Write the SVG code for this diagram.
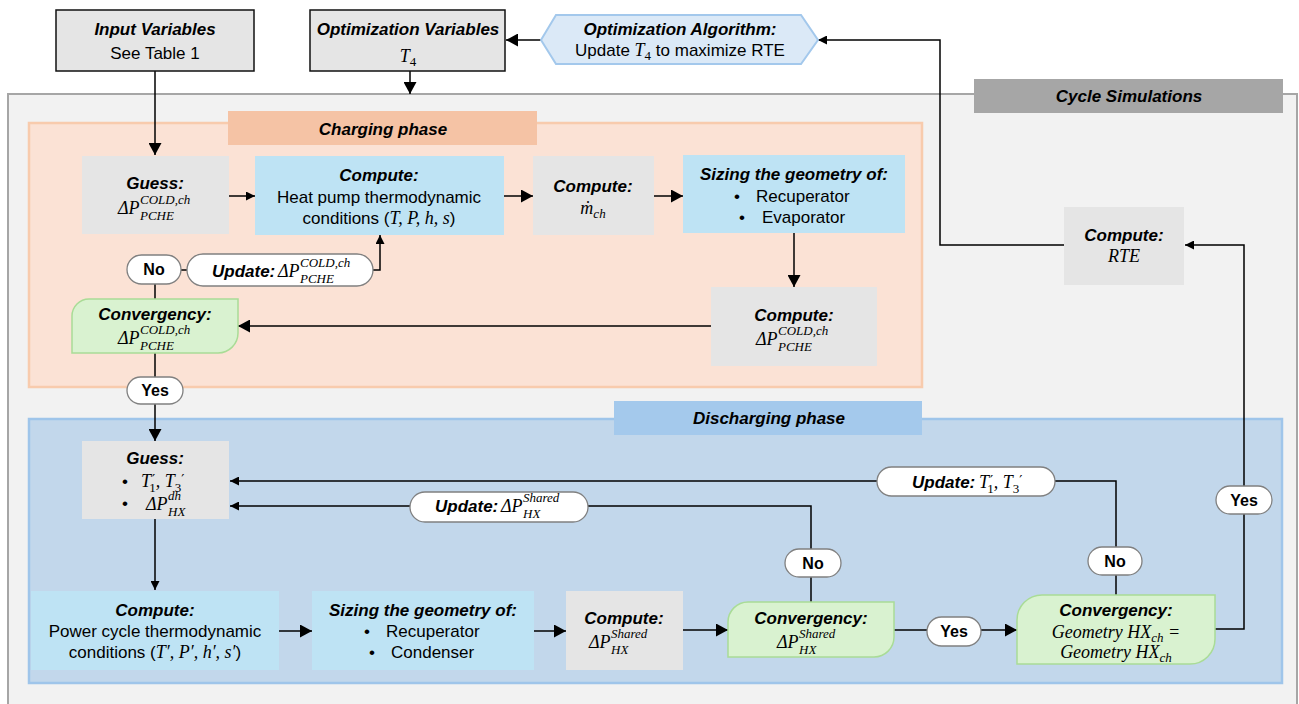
<svg xmlns="http://www.w3.org/2000/svg" width="1299" height="704" viewBox="0 0 1299 704">
<defs>
<style>
.t{font-family:"Liberation Sans",Arial,sans-serif;font-size:17px;text-anchor:middle;fill:#000}
.st{text-anchor:start}
.bi{font-weight:bold;font-style:italic}
.b{font-weight:bold;font-size:16px}
.m{font-family:"Liberation Serif","DejaVu Serif",serif;font-style:italic;font-size:18px;fill:#000}
.mi{font-family:"Liberation Serif","DejaVu Serif",serif;font-style:italic;font-size:18px}
.ms{font-family:"Liberation Serif","DejaVu Serif",serif;font-style:italic;font-size:13px;fill:#000}
.mn{font-family:"Liberation Serif","DejaVu Serif",serif;font-style:normal;font-size:13px;fill:#000}
.pr{font-family:"DejaVu Serif",serif;font-style:normal;font-size:14px;fill:#000}
.gray{fill:#e5e5e5}
.blue{fill:#bee3f4}
.green{fill:#d9f2d0;stroke:#a9dc96;stroke-width:1.5}
.pill{fill:#fff;stroke:#808080;stroke-width:1.3}
.c{fill:none;stroke:#000;stroke-width:1.5}
</style>
<marker id="A" markerUnits="userSpaceOnUse" markerWidth="12" markerHeight="13" refX="12" refY="6.5" orient="auto"><path d="M0,0L12,6.5L0,13Z"/></marker>
<marker id="S" markerUnits="userSpaceOnUse" markerWidth="9" markerHeight="9" refX="9" refY="4.5" orient="auto"><path d="M0,0L9,4.5L0,9Z"/></marker>
</defs>
<rect x="0" y="0" width="1299" height="704" fill="#fff"/>

<g id="cycle-simulations">
<rect x="8" y="94" width="1289" height="620" fill="#f2f2f2" stroke="#a6a6a6" stroke-width="2"/>
<rect x="974" y="79" width="309" height="34" fill="#a6a6a6"/>
<text class="t bi" x="1129" y="102">Cycle Simulations</text>
</g>

<g id="charging-phase">
<rect x="29" y="123" width="893" height="264" fill="#fbe2d5" stroke="#f8cbad" stroke-width="2.5"/>
<rect x="228" y="111" width="309" height="34" fill="#f5c3a5"/>
<text class="t bi" x="383" y="135">Charging phase</text>
</g>

<g id="discharging-phase">
<rect x="29" y="419" width="1253" height="264" fill="#c2d7eb" stroke="#9fc5ea" stroke-width="2.5"/>
<rect x="614" y="401" width="308" height="34" fill="#a4c9ec"/>
<text class="t bi" x="769" y="424">Discharging phase</text>
</g>

<g id="connectors">
<path class="c" d="M155,71V155" marker-end="url(#A)"/>
<path class="c" d="M410,71V94" marker-end="url(#A)"/>
<path class="c" d="M541,40H506" marker-end="url(#A)"/>
<path class="c" d="M1064,245H940V40H818" marker-end="url(#S)"/>
<path class="c" d="M229,196H255" marker-end="url(#S)"/>
<path class="c" d="M504,196H533" marker-end="url(#A)"/>
<path class="c" d="M654,196H683" marker-end="url(#A)"/>
<path class="c" d="M794,233V287" marker-end="url(#A)"/>
<path class="c" d="M711,326H238" marker-end="url(#A)"/>
<path class="c" d="M155,299V284"/>
<path class="c" d="M181,270H187"/>
<path class="c" d="M373,270H380V235" marker-end="url(#S)"/>
<path class="c" d="M155,353V377"/>
<path class="c" d="M155,404V441" marker-end="url(#A)"/>
<path class="c" d="M155,519V590" marker-end="url(#S)"/>
<path class="c" d="M279,631H312" marker-end="url(#A)"/>
<path class="c" d="M534,631H566" marker-end="url(#A)"/>
<path class="c" d="M683,630H728" marker-end="url(#A)"/>
<path class="c" d="M894,630H927"/>
<path class="c" d="M981,630H1017" marker-end="url(#A)"/>
<path class="c" d="M811,602V577"/>
<path class="c" d="M811,549V506H588"/>
<path class="c" d="M410,506H230" marker-end="url(#S)"/>
<path class="c" d="M1116,595V575"/>
<path class="c" d="M1116,547V481H1055"/>
<path class="c" d="M877,481H230" marker-end="url(#S)"/>
<path class="c" d="M1215,629H1244V514"/>
<path class="c" d="M1244,486V245H1185" marker-end="url(#S)"/>
</g>

<g id="input-variables">
<rect x="56" y="10" width="198" height="61" fill="#e5e5e5" stroke="#111" stroke-width="1.5"/>
<text class="t bi" x="155" y="35">Input Variables</text>
<text class="t" x="155" y="59">See Table 1</text>
</g>

<g id="optimization-variables">
<rect x="310" y="10" width="195" height="61" fill="#e5e5e5" stroke="#111" stroke-width="1.5"/>
<text class="t bi" x="408" y="35">Optimization Variables</text>
<text class="m" x="408" y="62" text-anchor="middle" font-size="20">T<tspan class="mn" dy="4">4</tspan></text>
</g>

<g id="optimization-algorithm">
<polygon points="541,40 556,15 801,15 818,40 801,64 556,64" fill="#dbe9f7" stroke="#a3c8ec" stroke-width="2"/>
<text class="t bi" x="680" y="35">Optimization Algorithm:</text>
<text class="t" x="680" y="56" font-size="16">Update <tspan class="mi">T</tspan><tspan class="mn" dy="4">4</tspan><tspan dy="-4"> to maximize RTE</tspan></text>
</g>

<g id="guess-ch">
<rect class="gray" x="82" y="156" width="147" height="78"/>
<text class="t bi" x="155" y="189">Guess:</text>
<g transform="translate(118,214)"><text class="m">ΔP</text><text class="ms" x="22" y="-10">COLD,ch</text><text class="ms" x="22" y="6">PCHE</text></g>
</g>

<g id="compute-heat-pump">
<rect class="blue" x="255" y="156" width="249" height="79"/>
<text class="t bi" x="379" y="181">Compute:</text>
<text class="t" x="379" y="203">Heat pump thermodynamic</text>
<text class="t" x="379" y="224">conditions (<tspan class="mi">T, P, h, s</tspan>)</text>
</g>

<g id="compute-mdot">
<rect class="gray" x="533" y="156" width="121" height="79"/>
<text class="t bi" x="593" y="192">Compute:</text>
<text class="m" x="593" y="214" text-anchor="middle">ṁ<tspan class="ms" dy="4">ch</tspan></text>
</g>

<g id="sizing-ch">
<rect class="blue" x="683" y="155" width="222" height="78"/>
<text class="t bi" x="794" y="180">Sizing the geometry of:</text>
<text class="t" x="737" y="202">•</text>
<text class="t st" x="756" y="202">Recuperator</text>
<text class="t" x="742" y="223">•</text>
<text class="t st" x="762" y="223">Evaporator</text>
</g>

<g id="compute-dp-ch">
<rect class="gray" x="711" y="287" width="166" height="79"/>
<text class="t bi" x="794" y="321">Compute:</text>
<g transform="translate(756,345)"><text class="m">ΔP</text><text class="ms" x="22" y="-10">COLD,ch</text><text class="ms" x="22" y="6">PCHE</text></g>
</g>

<g id="convergency-ch">
<path class="green" d="M89,299H238V333A20,20 0 0 1 218,353H72V316A17,17 0 0 1 89,299Z"/>
<text class="t bi" x="155" y="320">Convergency:</text>
<g transform="translate(118,344)"><text class="m">ΔP</text><text class="ms" x="22" y="-10">COLD,ch</text><text class="ms" x="22" y="6">PCHE</text></g>
</g>

<g id="no-ch">
<rect class="pill" x="127" y="255" width="54" height="29" rx="14.5"/>
<text class="t b" x="154" y="275">No</text>
</g>

<g id="update-ch">
<rect class="pill" x="187" y="254" width="186" height="32" rx="16"/>
<text class="t bi st" x="212" y="277">Update:</text>
<g transform="translate(278,277)"><text class="m">ΔP</text><text class="ms" x="22" y="-10">COLD,ch</text><text class="ms" x="22" y="6">PCHE</text></g>
</g>

<g id="yes-ch">
<rect class="pill" x="127" y="377" width="56" height="27" rx="13.5"/>
<text class="t b" x="155" y="396">Yes</text>
</g>

<g id="guess-dh">
<rect class="gray" x="82" y="441" width="147" height="78"/>
<text class="t bi" x="155" y="464">Guess:</text>
<text class="t" x="125" y="487">•</text>
<text class="m" x="141" y="487">T<tspan class="pr" dx="1" dy="-2">′</tspan><tspan class="mn" dx="-6" dy="7">1</tspan><tspan dy="-5">, T</tspan><tspan class="mn" dy="5">3</tspan><tspan class="pr" dy="-7">′</tspan></text>
<text class="t" x="125" y="509">•</text>
<g transform="translate(146,510)"><text class="m">ΔP</text><text class="ms" x="22" y="-10">dh</text><text class="ms" x="22" y="6">HX</text></g>
</g>

<g id="update-t1t3">
<rect class="pill" x="877" y="467" width="178" height="29" rx="14.5"/>
<text class="t bi st" x="912" y="488">Update:</text>
<text class="m" x="979" y="488">T<tspan class="pr" dx="1" dy="-2">′</tspan><tspan class="mn" dx="-6" dy="7">1</tspan><tspan dy="-5">, T</tspan><tspan class="mn" dy="5">3</tspan><tspan class="pr" dy="-7">′</tspan></text>
</g>

<g id="update-dp-shared">
<rect class="pill" x="410" y="492" width="178" height="30" rx="15"/>
<text class="t bi st" x="435" y="512">Update:</text>
<g transform="translate(501,512)"><text class="m">ΔP</text><text class="ms" x="22" y="-10">Shared</text><text class="ms" x="22" y="6">HX</text></g>
</g>

<g id="no-dh-1">
<rect class="pill" x="785" y="549" width="56" height="28" rx="14"/>
<text class="t b" x="813" y="569">No</text>
</g>

<g id="no-dh-2">
<rect class="pill" x="1088" y="547" width="54" height="28" rx="14"/>
<text class="t b" x="1115" y="567">No</text>
</g>

<g id="compute-power">
<rect class="blue" x="31" y="591" width="248" height="79"/>
<text class="t bi" x="155" y="616">Compute:</text>
<text class="t" x="155" y="637">Power cycle thermodynamic</text>
<text class="t" x="155" y="658">conditions (<tspan class="mi">T′, P′, h′, s′</tspan>)</text>
</g>

<g id="sizing-dh">
<rect class="blue" x="312" y="591" width="222" height="79"/>
<text class="t bi" x="423" y="616">Sizing the geometry of:</text>
<text class="t" x="367" y="637">•</text>
<text class="t st" x="386" y="637">Recuperator</text>
<text class="t" x="372" y="658">•</text>
<text class="t st" x="391" y="658">Condenser</text>
</g>

<g id="compute-dp-shared">
<rect class="gray" x="566" y="591" width="117" height="79"/>
<text class="t bi" x="624" y="624">Compute:</text>
<g transform="translate(589,648)"><text class="m">ΔP</text><text class="ms" x="22" y="-10">Shared</text><text class="ms" x="22" y="6">HX</text></g>
</g>

<g id="convergency-dp-shared">
<path class="green" d="M748,602H894V637A20,20 0 0 1 874,657H728V622A20,20 0 0 1 748,602Z"/>
<text class="t bi" x="811" y="624">Convergency:</text>
<g transform="translate(777,648)"><text class="m">ΔP</text><text class="ms" x="22" y="-10">Shared</text><text class="ms" x="22" y="6">HX</text></g>
</g>

<g id="yes-dh">
<rect class="pill" x="927" y="617" width="54" height="29" rx="14.5"/>
<text class="t b" x="954" y="637">Yes</text>
</g>

<g id="convergency-geometry">
<path class="green" d="M1042,595H1215V639A25,25 0 0 1 1190,664H1017V620A25,25 0 0 1 1042,595Z"/>
<text class="t bi" x="1116" y="616">Convergency:</text>
<text class="m" x="1116" y="638" text-anchor="middle">Geometry HX<tspan class="ms" dy="4">ch</tspan><tspan dy="-4"> =</tspan></text>
<text class="m" x="1116" y="658" text-anchor="middle">Geometry HX<tspan class="ms" dy="4">ch</tspan></text>
</g>

<g id="yes-rte">
<rect class="pill" x="1216" y="486" width="56" height="28" rx="14"/>
<text class="t b" x="1244" y="506">Yes</text>
</g>

<g id="compute-rte">
<rect class="gray" x="1064" y="207" width="120" height="78"/>
<text class="t bi" x="1124" y="241">Compute:</text>
<text class="m" x="1124" y="262" text-anchor="middle">RTE</text>
</g>
</svg>
